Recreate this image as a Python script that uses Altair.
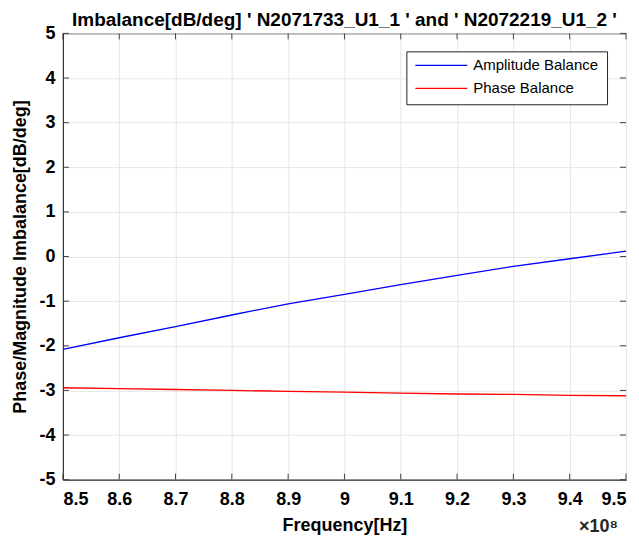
import altair as alt
import pandas as pd

freq_hz = [850e6, 860e6, 870e6, 880e6, 890e6, 900e6, 910e6, 920e6, 930e6, 940e6, 950e6]
amplitude_balance = [-2.08, -1.82, -1.57, -1.31, -1.06, -0.85, -0.63, -0.42, -0.22, -0.05, 0.12]
phase_balance = [-2.94, -2.96, -2.98, -3.00, -3.02, -3.04, -3.06, -3.08, -3.09, -3.11, -3.12]
series_names = ["Amplitude Balance", "Phase Balance"]
series_colors = ["#0000ff", "#ff0000"]
x_ticks = [850e6, 860e6, 870e6, 880e6, 890e6, 900e6, 910e6, 920e6, 930e6, 940e6, 950e6]
y_ticks = [-5, -4, -3, -2, -1, 0, 1, 2, 3, 4, 5]

rows = []
for f, a, p in zip(freq_hz, amplitude_balance, phase_balance):
    rows.append({"freq": f, "value": a, "series": series_names[0]})
    rows.append({"freq": f, "value": p, "series": series_names[1]})
df = pd.DataFrame(rows)
xt_df = pd.DataFrame({"freq": x_ticks})
yt_df = pd.DataFrame({"value": y_ticks})

FONT_B = "'Liberation Sans', Arial"
FONT = "'Liberation Sans', Arial"
W, H = 564, 447
TL = 6
TICK_COLOR = "#404040"

x_enc = alt.X("freq:Q", scale=alt.Scale(domain=[850e6, 950e6], nice=False),
              axis=alt.Axis(values=x_ticks, labelExpr="format(datum.value/1e8, '.1~f')",
                            title="Frequency[Hz]", grid=True, ticks=False,
                            labelPadding=11, titlePadding=8))
y_enc = alt.Y("value:Q", scale=alt.Scale(domain=[-5, 5], nice=False),
              axis=alt.Axis(values=y_ticks,
                            labelExpr="datum.value < 0 ? '-' + abs(datum.value) : '' + datum.value",
                            title="Phase/Magnitude Imbalance[dB/deg]",
                            grid=True, ticks=False, labelPadding=8, titlePadding=9))

lines = alt.Chart(df).mark_line(strokeWidth=1.3).encode(
    x=x_enc,
    y=y_enc,
    color=alt.Color("series:N", scale=alt.Scale(domain=series_names, range=series_colors),
                    legend=alt.Legend(title=None, orient="none", legendX=344, legendY=18,
                                      symbolType="stroke", symbolSize=2704, symbolStrokeWidth=1.3,
                                      clipHeight=12, rowPadding=8,
                                      labelFont=FONT, labelFontSize=15, labelColor="#000",
                                      fillColor="white", strokeColor="#262626", padding=8,
                                      labelOffset=5, labelLimit=200)),
)

tick_bottom = alt.Chart(xt_df).mark_rule(color=TICK_COLOR, strokeWidth=1).encode(
    x=x_enc, y=alt.value(H), y2=alt.value(H - TL))
tick_top = alt.Chart(xt_df).mark_rule(color=TICK_COLOR, strokeWidth=1).encode(
    x=x_enc, y=alt.value(0), y2=alt.value(TL))
tick_left = alt.Chart(yt_df).mark_rule(color=TICK_COLOR, strokeWidth=1).encode(
    y=y_enc, x=alt.value(0), x2=alt.value(TL))
tick_right = alt.Chart(yt_df).mark_rule(color=TICK_COLOR, strokeWidth=1).encode(
    y=y_enc, x=alt.value(W), x2=alt.value(W - TL))

exponent = alt.Chart(pd.DataFrame({"t": ["×10⁸"]})).mark_text(
    font=FONT_B, fontSize=18, fontWeight="bold", align="right", baseline="middle", color="#262626"
).encode(text="t:N", x=alt.value(W - 8), y=alt.value(H + 47))

chart = alt.layer(lines, tick_bottom, tick_top, tick_left, tick_right, exponent).properties(
    width=W, height=H,
    background="white",
    title=alt.TitleParams("Imbalance[dB/deg]  ' N2071733_U1_1 ' and ' N2072219_U1_2 '",
                          font=FONT_B, fontSize=19, fontWeight="bold", color="#000",
                          anchor="middle", offset=-6),
    padding={"left": 55, "top": 25, "right": 5, "bottom": 58},
    autosize=alt.AutoSizeParams(type="none"),
).configure_view(stroke="#262626", strokeWidth=1).configure_axis(
    labelFont=FONT_B, labelFontSize=18, labelFontWeight="bold", labelColor="#000",
    titleFont=FONT_B, titleFontSize=18, titleFontWeight="bold", titleColor="#000",
    gridColor="#e6e6e6", gridWidth=1, domainColor="#262626",
)

chart.save("out.html", embed_options={"renderer": "svg", "actions": False})
